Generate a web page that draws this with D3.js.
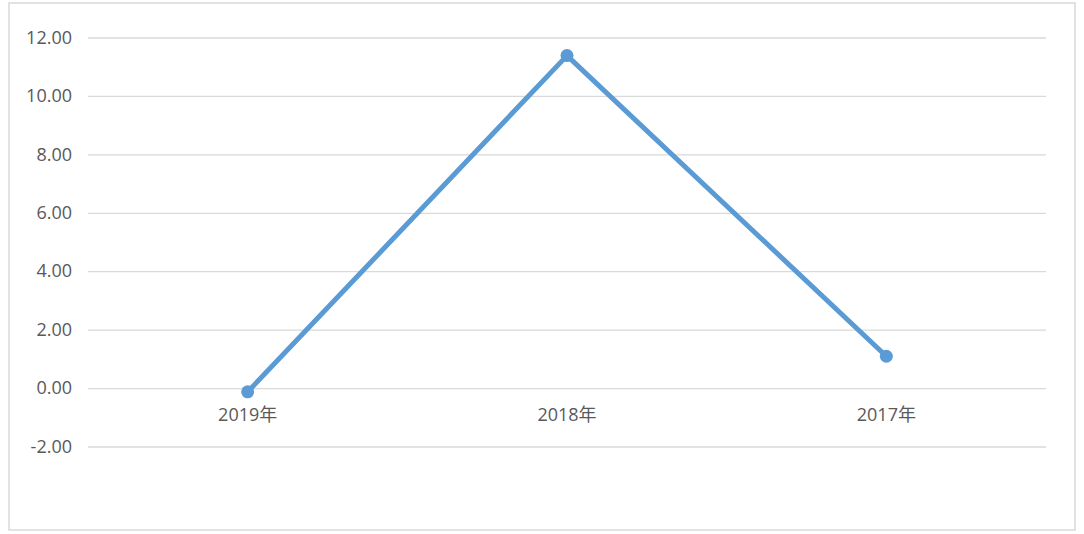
<!DOCTYPE html>
<html><head><meta charset="utf-8">
<script src="https://cdn.jsdelivr.net/npm/d3@7"></script>
<style>
html,body{margin:0;padding:0;background:#fff;}
svg{display:block;}
text{font-family:"Open Sans","Noto Sans CJK SC",sans-serif;fill:#595959;}
</style></head>
<body>
<svg id="chart" width="1084" height="534"></svg>
<script>
const categories = ["2019年", "2018年", "2017年"];
const values = [-0.13, 11.38, 1.09];
const yTicks = [-2, 0, 2, 4, 6, 8, 10, 12];

const svg = d3.select("#chart");
svg.append("rect").attr("x", 9).attr("y", 3).attr("width", 1066).attr("height", 527)
  .attr("fill", "#fff").attr("stroke", "#d9d9d9").attr("stroke-width", 1.5);

const x = d3.scaleBand().domain(categories).range([88, 1046]);
const y = d3.scaleLinear().domain([-2, 12]).range([446.5, 37.5]);

const fmt = d => d.toFixed(2);
const yAxis = d3.axisLeft(y).tickValues(yTicks).tickSize(-(1046 - 88)).tickPadding(16)
  .tickFormat(fmt);
const gy = svg.append("g").attr("transform", "translate(88,0)").call(yAxis);
gy.select(".domain").remove();
gy.selectAll(".tick line").attr("stroke", "#d9d9d9").attr("stroke-width", 1.3);
gy.selectAll(".tick text").attr("font-size", 18).style("fill", "#595959");

const xAxis = d3.axisBottom(x).tickSize(0).tickPadding(20);
const gx = svg.append("g").attr("transform", `translate(0,${y(0)})`).call(xAxis);
gx.select(".domain").remove();
gx.selectAll(".tick text").attr("font-size", 18).style("fill", "#595959");

const pts = categories.map((c, i) => [x(c) + x.bandwidth() / 2, y(values[i])]);
svg.append("path").attr("d", d3.line()(pts)).attr("fill", "none")
  .attr("stroke", "#5b9bd5").attr("stroke-width", 5).attr("stroke-linejoin", "round");
svg.selectAll("circle.pt").data(pts).join("circle").attr("class", "pt")
  .attr("cx", d => d[0]).attr("cy", d => d[1]).attr("r", 6.5).attr("fill", "#5b9bd5");
</script>
</body></html>
